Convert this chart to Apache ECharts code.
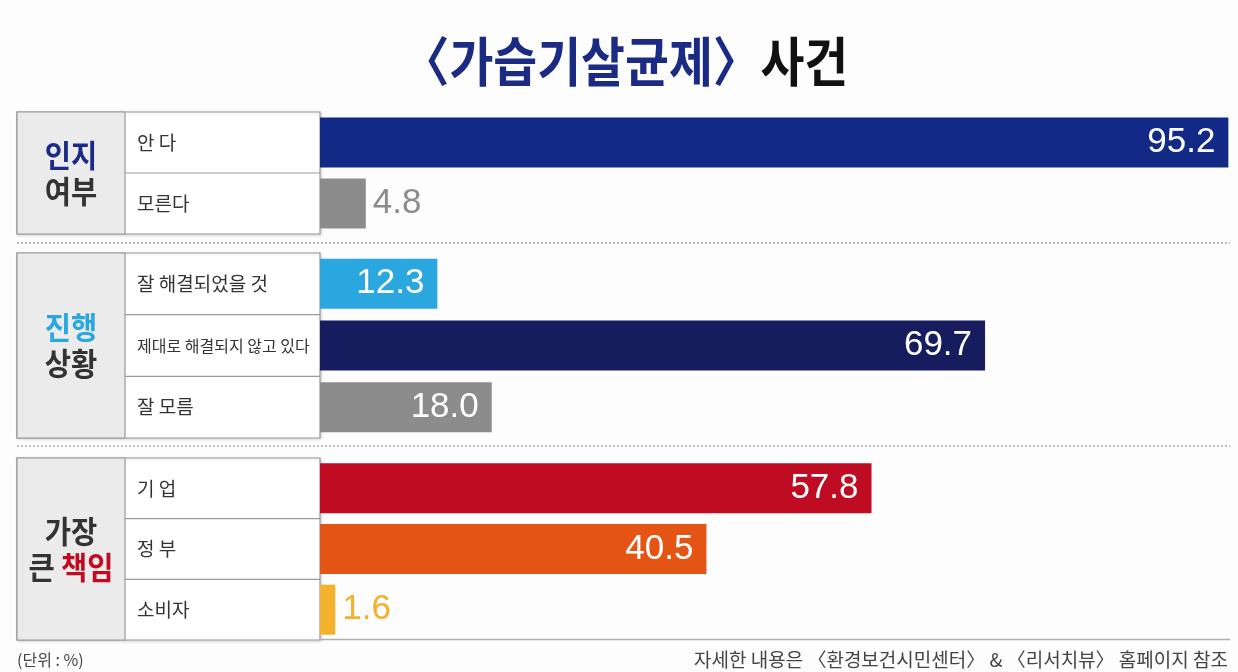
<!DOCTYPE html>
<html><head><meta charset="utf-8">
<script src="https://cdn.jsdelivr.net/npm/echarts@6/dist/echarts.min.js"></script>
<style>html,body{margin:0;padding:0;background:#fdfdfd}#c{width:1238px;height:672px}</style>
</head><body><div id="c"></div>
<script>
// ---- data ----
const titleMain = '〈가습기살균제〉';
const titleTail = '사건';
const groupLine1 = ['인지', '진행', '가장'];
const groupLine2 = ['여부', '상황', '큰 '];
const groupLine2b = ['', '', '책임'];
const cats1 = ['안 다', '모른다'];
const vals1 = [95.2, 4.8];
const cats2 = ['잘 해결되었을 것', '제대로 해결되지 않고 있다', '잘 모름'];
const vals2 = [12.3, 69.7, 18.0];
const cats3 = ['기 업', '정 부', '소비자'];
const vals3 = [57.8, 40.5, 1.6];
const unitText = '(단위 : %)';
const sourceText = '자세한 내용은 〈환경보건시민센터〉 & 〈리서치뷰〉 홈페이지 참조';

// ---- styles ----
const colors1 = ['#122a86', '#8c8c8c'];
const colors2 = ['#2aa7df', '#171c5e', '#8c8c8c'];
const colors3 = ['#c00c22', '#e45515', '#f4b12c'];
const groupColor1 = ['#1b2b84', '#2aa7df', '#333333'];
const groupColorRed = '#c00c22';
const KR = '"Noto Sans CJK KR", sans-serif';
const NUM = '"Liberation Sans Narrow", "Liberation Sans", Arial, sans-serif';

const layout = [ {top:112, h:122}, {top:253, h:185}, {top:458, h:182} ];
const TL = 17, COL = 125, X0 = 320, XW = 916, XMAX = 96;

const catsAll = [cats1, cats2, cats3];
const valsAll = [vals1, vals2, vals3];
const colsAll = [colors1, colors2, colors3];

const chart = echarts.init(document.getElementById('c'));

const grids = [], xAxes = [], yAxes = [], series = [];
layout.forEach((L, i) => {
  grids.push({left: X0, top: L.top, width: XW, height: L.h, containLabel: false});
  xAxes.push({type: 'value', gridIndex: i, min: 0, max: XMAX, show: false});
  yAxes.push({
    type: 'category', gridIndex: i, inverse: true, data: catsAll[i],
    axisLine: {show: false}, axisTick: {show: false}, splitLine: {show: false},
    axisLabel: {
      align: 'left', margin: X0 - 137, fontFamily: KR, color: '#333',
      formatter: v => v.length > 10 ? '{s|' + v + '}' : '{n|' + v + '}',
      rich: {
        n: {fontSize: 19, fontFamily: KR, color: '#333', letterSpacing: 1},
        s: {fontSize: 16, fontFamily: KR, color: '#333', letterSpacing: -0.3}
      }
    }
  });
  series.push({
    type: 'bar', xAxisIndex: i, yAxisIndex: i, barWidth: 50,
    data: valsAll[i].map((v, j) => {
      const small = v < 10;
      return {
        value: v,
        itemStyle: {color: colsAll[i][j]},
        label: {
          show: true,
          position: small ? 'right' : 'insideRight',
          distance: small ? 7 : 13,
          color: small ? colsAll[i][j] : '#ffffff',
          fontSize: 35, fontFamily: NUM, letterSpacing: -1.5,
          formatter: p => p.value.toFixed(1)
        }
      };
    })
  });
});

// table graphics
const graphics = [];
layout.forEach((L, i) => {
  const n = catsAll[i].length;
  graphics.push({type: 'rect', z: 0, shape: {x: TL, y: L.top, width: X0 - TL, height: L.h},
    style: {fill: '#ffffff', stroke: '#9a9a9a', lineWidth: 1.2, shadowBlur: 3, shadowColor: 'rgba(0,0,0,0.15)', shadowOffsetX: 1, shadowOffsetY: 1}});
  graphics.push({type: 'rect', z: 1, shape: {x: TL, y: L.top, width: COL - TL, height: L.h},
    style: {fill: '#ebebeb', stroke: '#9a9a9a', lineWidth: 1.2}});
  for (let k = 1; k < n; k++) {
    const y = L.top + L.h * k / n;
    graphics.push({type: 'line', z: 1, shape: {x1: COL, y1: y, x2: X0, y2: y}, style: {stroke: '#9a9a9a', lineWidth: 1.2}});
  }
  const cy = L.top + L.h / 2;
  const line2 = groupLine2b[i]
    ? '{d|' + groupLine2[i] + '}{r|' + groupLine2b[i] + '}'
    : '{d|' + groupLine2[i] + '}';
  graphics.push({type: 'text', z: 2, x: (TL + COL) / 2, y: cy, scaleX: 0.92, originX: 0,
    style: {
      text: '{t|' + groupLine1[i] + '}\n' + line2,
      align: 'center', verticalAlign: 'middle',
      rich: {
        t: {fontSize: 31, fontWeight: 'bold', fontFamily: KR, fill: i === 2 ? '#333333' : groupColor1[i], lineHeight: 36, align: 'center'},
        d: {fontSize: 31, fontWeight: 'bold', fontFamily: KR, fill: '#333333', lineHeight: 36},
        r: {fontSize: 31, fontWeight: 'bold', fontFamily: KR, fill: groupColorRed, lineHeight: 36}
      }
    }});
});
// dotted separators
[243, 446].forEach(y => graphics.push({type: 'line', shape: {x1: TL, y1: y, x2: 1230, y2: y},
  style: {stroke: '#a8a8a8', lineWidth: 1.3, lineDash: [2, 2]}}));
// bottom baseline
graphics.push({type: 'line', shape: {x1: X0, y1: 639.5, x2: 1230, y2: 639.5}, style: {stroke: '#b0b0b0', lineWidth: 1.5}});
// title
graphics.push({type: 'text', x: 625, y: 62, scaleX: 0.9,
  style: {text: '{b|' + titleMain + '}{k|' + titleTail + '}', align: 'center', verticalAlign: 'middle',
    rich: {
      b: {fontSize: 53, fontWeight: 'bold', fontFamily: KR, fill: '#1b2b84'},
      k: {fontSize: 53, fontWeight: 'bold', fontFamily: KR, fill: '#111111'}
    }}});
// footer
graphics.push({type: 'text', x: 17, y: 660, style: {text: unitText, fontSize: 16, fontFamily: KR, fill: '#444', align: 'left', verticalAlign: 'middle'}});
graphics.push({type: 'text', x: 1228, y: 660, style: {text: sourceText, fontSize: 19, fontFamily: KR, fill: '#444', align: 'right', verticalAlign: 'middle'}});

chart.setOption({
  backgroundColor: '#fdfdfd',
  animation: false,
  grid: grids, xAxis: xAxes, yAxis: yAxes, series: series,
  graphic: {elements: graphics}
});
</script></body></html>
